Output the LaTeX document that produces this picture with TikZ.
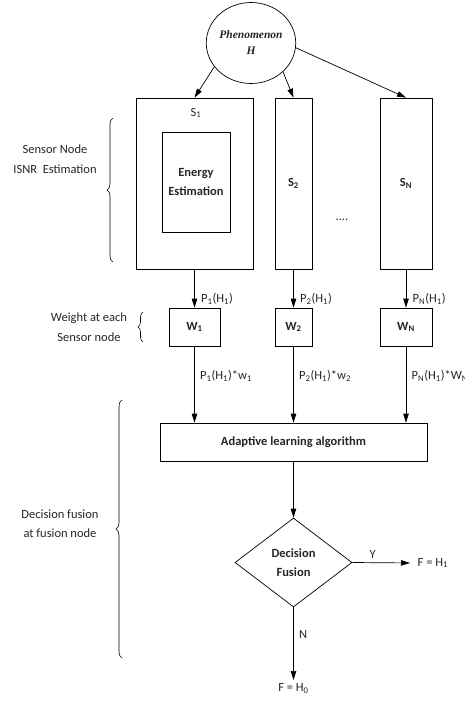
\documentclass[tikz,border=0pt]{standalone}
\usepackage{fontspec}
\setmainfont{Carlito}
\newfontfamily\timesfont{Liberation Serif}
\usetikzlibrary{shapes.geometric,arrows.meta,decorations.pathreplacing}

\begin{document}
\begin{tikzpicture}
  [x=1pt,y=-1pt,line width=0.7pt,>={Triangle[length=9pt,width=5.5pt]},
   every node/.style={font=\fontsize{12.5}{19.5}\selectfont,align=center,text=black!85},
   box/.style={draw,rectangle,inner sep=0pt,font=\fontsize{12.5}{19.5}\selectfont\bfseries},
   brc/.style={decorate,decoration={brace,amplitude=6pt},line width=0.6pt}]
  \useasboundingbox (0,0) rectangle (464,704);

  \node[ellipse,draw,minimum width=88pt,minimum height=81pt,inner sep=0pt,
        font=\timesfont\fontsize{11.5}{16}\selectfont\bfseries\itshape] (phen) at (251,43) {Phenomenon\\H};

  \node[box,minimum width=117pt,minimum height=171pt] (s1) at (194.5,183.5) {};
  \node (s1lab) at (196,113) {S\textsubscript{1}};
  \node[box,minimum width=68pt,minimum height=100pt] (energy) at (196,182) {Energy\\Estimation};
  \node[box,minimum width=37pt,minimum height=171pt] (s2) at (293.5,183.5) {S\textsubscript{2}};
  \node[box,minimum width=52pt,minimum height=171pt] (sn) at (406,183.5) {S\textsubscript{N}};
  \node (dots) at (342,220) {....};

  \node[box,minimum width=51pt,minimum height=38pt] (w1) at (194.5,327) {W\textsubscript{1}};
  \node[box,minimum width=37pt,minimum height=38pt] (w2) at (293.5,327) {W\textsubscript{2}};
  \node[box,minimum width=52pt,minimum height=38pt] (wn) at (406,327) {W\textsubscript{N}};

  \node[box,minimum width=267pt,minimum height=38pt] (alg) at (293.5,442) {Adaptive learning algorithm};
  \node[diamond,draw,minimum width=117pt,minimum height=89pt,inner sep=0pt,
        font=\fontsize{12.5}{19.5}\selectfont\bfseries] (fusion) at (293.5,562.5) {Decision\\Fusion};
  \node[anchor=west] (fh1) at (414,563) {F = H\textsubscript{1}};
  \node[anchor=north] (fh0) at (293.5,680) {F = H\textsubscript{0}};

  \draw[->] (phen.213) -- (s1.north);
  \draw[->] (phen.318) -- (s2.north);
  \draw[->] (phen.354) -- (sn.north);

  \foreach \from/\to/\txt in {s1/w1/{P\textsubscript{1}(H\textsubscript{1})},
                              s2/w2/{P\textsubscript{2}(H\textsubscript{1})},
                              sn/wn/{P\textsubscript{N}(H\textsubscript{1})}}
    \draw[->] (\from) -- node[right,pos=0.77,xshift=3pt]{\txt} (\to);

  \foreach \from/\txt in {w1/{P\textsubscript{1}(H\textsubscript{1})*w\textsubscript{1}},
                          w2/{P\textsubscript{2}(H\textsubscript{1})*w\textsubscript{2}},
                          wn/{P\textsubscript{N}(H\textsubscript{1})*W\textsubscript{N}}}
    \draw[->] (\from.south) -- node[right,pos=0.39,xshift=2pt]{\txt} (\from.south |- alg.north);

  \draw[->] (alg) -- (fusion);
  \draw[->,shorten >=4pt] (fusion.east) -- node[above,pos=0.33]{Y} (fh1.west);
  \draw[->] (fusion.south) -- node[right,pos=0.37,xshift=2pt]{N} (fh0.north);

  \draw[brc] (113,262) -- (113,118);
  \node (sensorlbl) at (55,159) {Sensor Node\\ISNR\ \ Estimation};
  \draw[brc,decoration={amplitude=5pt}] (143,342) -- (143,312);
  \node (weightlbl) at (89,327) {Weight at each\\Sensor node};
  \draw[brc] (122,658) -- (122,400);
  \node (decisionlbl) at (60,523.5) {Decision fusion\\at fusion node};
\end{tikzpicture}
\end{document}
